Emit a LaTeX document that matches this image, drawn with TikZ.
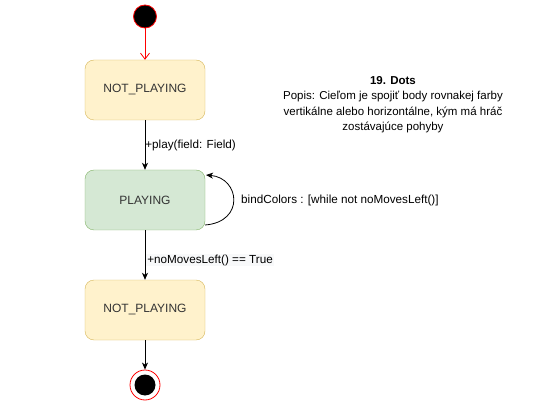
\documentclass[tikz,border=0pt]{standalone}
\usepackage{fontspec}
\setmainfont{Liberation Sans}
\usetikzlibrary{arrows.meta}
\definecolor{yfill}{HTML}{FFF2CC}
\definecolor{ystroke}{HTML}{D6B656}
\definecolor{gfill}{HTML}{D5E8D4}
\definecolor{gstroke}{HTML}{82B366}
\definecolor{lblbg}{HTML}{F8F9FA}
\tikzset{
  statebox/.style={rectangle, rounded corners=9pt, minimum width=120pt, minimum height=60pt, inner sep=0pt, font=\fontsize{12}{14}\selectfont, text=black!80},
  ystate/.style={statebox, fill=yfill, draw=ystroke},
  gstate/.style={statebox, fill=gfill, draw=gstroke},
  conn/.style={draw=black, line width=0.8pt, -{Stealth[length=7pt,width=6pt,inset=2pt]}},
  lbl/.style={font=\fontsize{11.7}{13}\selectfont, inner sep=1pt},
}
\begin{document}
\begin{tikzpicture}[x=1pt,y=-1pt]
\useasboundingbox (0,0) rectangle (536,401);
% initial state
\node[circle, fill=black, draw=red, line width=0.8pt, minimum size=23pt, inner sep=0pt] (init) at (145,16.5) {};
% states
\node[ystate] (np1) at (145,90) {NOT\_PLAYING};
\node[gstate] (pl) at (145,200) {PLAYING};
\node[ystate] (np2) at (145,310) {NOT\_PLAYING};
% final state
\node[circle, fill=white, draw=red, line width=0.8pt, minimum size=30pt, inner sep=0pt] (fin) at (145,385) {};
\node[circle, fill=black, minimum size=21pt, inner sep=0pt] (finin) at (fin.center) {};
% connectors
\draw[red, line width=0.8pt, -{Straight Barb[length=6pt,width=9pt]}] (init) -- (np1);
\draw[conn] (np1) -- node[lbl, right, anchor=west, xshift=-1pt] {+play(field: Field)} (pl);
\draw[conn] (pl) -- node[lbl, anchor=west, xshift=1pt, yshift=-5pt, fill=lblbg] {+noMovesLeft() == True} (np2);
\draw[conn] (np2) -- (fin);
% self loop
\coordinate (ls) at (205,225);
\coordinate (le) at (206,175);
\draw[conn] (ls) .. controls (245,222) and (240,178) .. (le);
\node[lbl, anchor=west] (loopl) at (240,200) {bindColors : [while not noMovesLeft()]};
% description
\node[align=center, font=\fontsize{11.5}{15.5}\selectfont] (desc) at (393,104.5) {\textbf{19. Dots}\\Popis: Cieľom je spojiť body rovnakej farby\\vertikálne alebo horizontálne, kým má hráč\\zostávajúce pohyby};
\end{tikzpicture}
\end{document}
